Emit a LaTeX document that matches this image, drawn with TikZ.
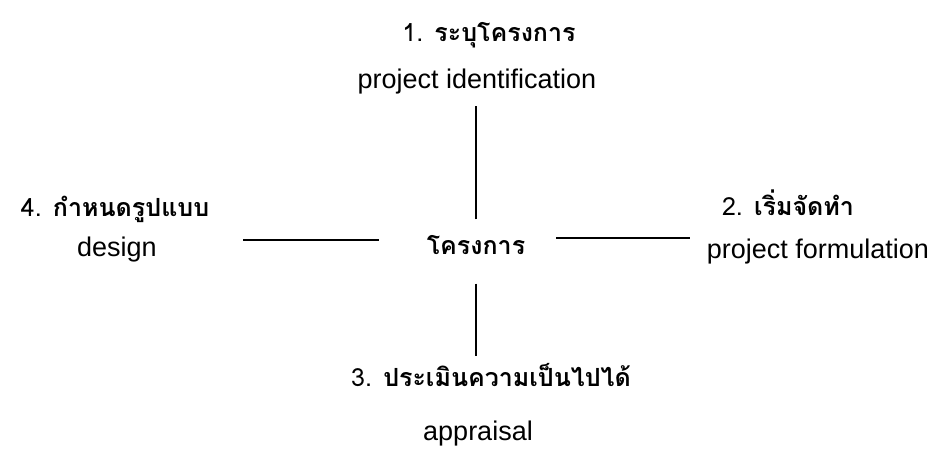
\documentclass[tikz,border=0pt]{standalone}
\usepackage{fontspec}
\setmainfont{Liberation Sans}
\newfontfamily\thaifont[Script=Thai]{Loma}
\tikzset{
  en/.style={font=\fontsize{27}{31}\selectfont, inner sep=0pt, text height=0.73em, text depth=0.21em},
  th/.style={font=\thaifont\fontsize{25}{29}\selectfont, inner sep=0pt, text height=0.75em, text depth=0.25em},
  link/.style={line width=1.6pt, black}
}
\begin{document}
\begin{tikzpicture}[x=1pt,y=-1pt]
\useasboundingbox (0,0) rectangle (944,458);
\node[th] (t1) at (489,39) {1. {\bfseries ระบุโครงการ}};
\node[en] (e1) at (477,86) {project identification};
\node[th] (t4) at (115,214) {4. {\bfseries กำหนดรูปแบบ}};
\node[en] (e4) at (117,254) {design};
\node[th] (c) at (476,252) {\bfseries โครงการ};
\node[th] (t2) at (788,213) {2. {\bfseries เริ่มจัดทำ}};
\node[en] (e2) at (818,256) {project formulation};
\node[th] (t3) at (491,384) {3. {\bfseries ประเมินความเป็นไปได้}};
\node[en] (e3) at (478,438) {appraisal};
\draw[link, shorten <=27.5pt, shorten >=15.3pt] (c.north) -- (c.north |- e1.south);
\draw[link, shorten <=26.5pt, shorten >=22.5pt] (c.south) -- (c.south |- t3.north);
\draw[link, shorten <=48pt, shorten >=86pt] ([yshift=12pt]c.west) -- ([yshift=12pt]c.west -| e4.east);
\draw[link, shorten <=31pt, shorten >=17pt] ([yshift=14pt]c.east) -- ([yshift=14pt]c.east -| e2.west);
\end{tikzpicture}
\end{document}
